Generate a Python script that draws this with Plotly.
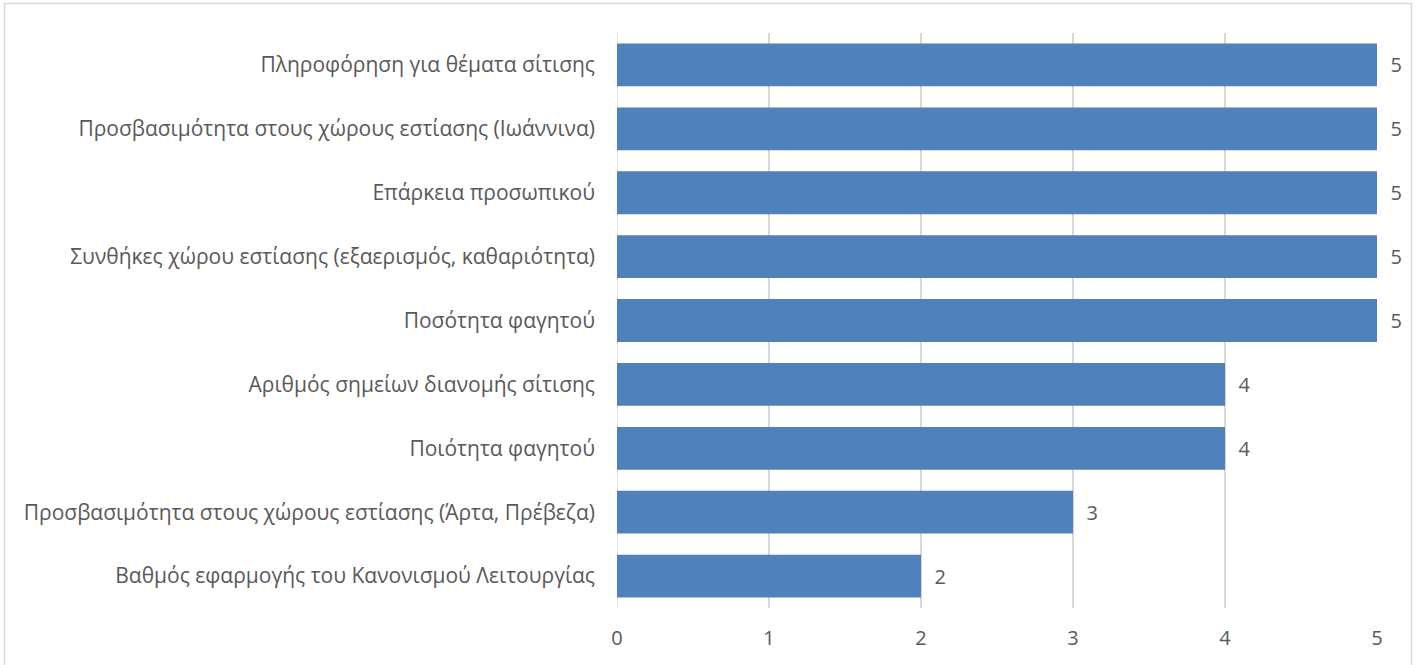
import plotly.graph_objects as go

categories = [
    "Βαθμός εφαρμογής του Κανονισμού Λειτουργίας",
    "Προσβασιμότητα στους χώρους εστίασης (Άρτα, Πρέβεζα)",
    "Ποιότητα φαγητού",
    "Αριθμός σημείων διανομής σίτισης",
    "Ποσότητα φαγητού",
    "Συνθήκες χώρου εστίασης (εξαερισμός, καθαριότητα)",
    "Επάρκεια προσωπικού",
    "Προσβασιμότητα στους χώρους εστίασης (Ιωάννινα)",
    "Πληροφόρηση για θέματα σίτισης",
]
values = [2, 3, 4, 4, 5, 5, 5, 5, 5]
x_ticks = [0, 1, 2, 3, 4, 5]

W, H = 1416, 665
L, R, T, B = 617, 39, 33, 57
pw, ph = W - L - R, H - T - B

font_family = "Open Sans"
txt_color = "#595959"
fs = 21

fig = go.Figure(go.Bar(
    y=categories, x=values, orientation="h",
    marker=dict(color="#4F81BD", line=dict(width=0)),
    text=[str(v) for v in values], textposition="outside",
    texttemplate="  %{text}",
    textfont=dict(family=font_family, size=fs - 1, color=txt_color),
    cliponaxis=False,
))

def px_x(p):
    return (p - L) / pw

def px_y(p):
    return (H - B - p) / ph

fig.update_layout(
    width=W, height=H,
    margin=dict(l=L, r=R, t=T, b=B),
    paper_bgcolor="white", plot_bgcolor="white",
    bargap=0.33,
    showlegend=False,
    font=dict(family=font_family, size=fs, color=txt_color),
    xaxis=dict(
        range=[0, 5], tickvals=x_ticks, ticktext=[str(v) for v in x_ticks],
        showgrid=True, gridcolor="#D9D9D9", gridwidth=1.5,
        zeroline=False, showline=False, ticks="",
        ticklabelstandoff=16,
        tickfont=dict(family=font_family, size=fs - 1, color=txt_color),
    ),
    yaxis=dict(
        showgrid=False, zeroline=False, showline=False, ticks="",
        ticklabelstandoff=21,
        tickfont=dict(family=font_family, size=fs, color=txt_color),
    ),
    shapes=[
        dict(type="line", xref="x", yref="paper", x0=0, x1=0, y0=0, y1=1,
             line=dict(color="#D9D9D9", width=1.5), layer="below"),
        dict(type="rect", xref="paper", yref="paper",
             x0=px_x(4.5), x1=px_x(1411.5), y0=px_y(680), y1=px_y(3.5),
             line=dict(color="#D9D9D9", width=1.5), fillcolor="rgba(0,0,0,0)"),
    ],
)

fig.write_html("out.html", config={"displayModeBar": False},
               post_script="document.body.style.margin='0';")
